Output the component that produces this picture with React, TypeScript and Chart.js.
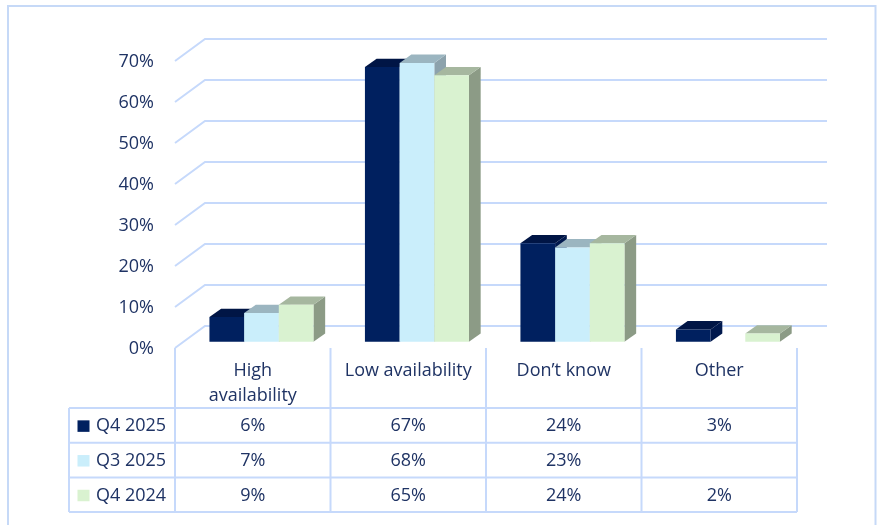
import { useEffect, useRef } from 'react';
import { Chart, registerables } from 'chart.js';

Chart.register(...registerables);

// Survey answers per quarter (percent)
const categories: string[][] = [['High', 'availability'], ['Low availability'], ['Don’t know'], ['Other']];
const seriesNames = ['Q4 2025', 'Q3 2025', 'Q4 2024'];
const q4_2025: (number | null)[] = [6, 67, 24, 3];
const q3_2025: (number | null)[] = [7, 68, 23, null];
const q4_2024: (number | null)[] = [9, 65, 24, 2];
const yTicks = [0, 10, 20, 30, 40, 50, 60, 70];

const FACE_FRONT = ['#00205f', '#caeefb', '#d9f2d0'];
const FACE_TOP = ['#001545', '#9bb5c0', '#a6b79f'];
const FACE_SIDE = ['#00184d', '#8ca2ac', '#8c9b86'];

const GRID = '#c6d9fb';
const TEXT = '#1f3364';
const FONT = '18px "Open Sans", sans-serif';

// offsets of the floor's front edge and back wall relative to the bar plane
const FRONT_OFF = { dx: -8.7, dy: 6.3 };
const BACK_OFF = { dx: 21.3, dy: -15.7 };
// bar depth
const BAR_D = { dx: 11.7, dy: -8.3 };

const TABLE_LEFT = 69;
const HEADER_BOTTOM = 408;
const ROW_H = 34.7;

const depthPlugin = {
  id: 'depth3d',
  beforeDatasetsDraw(chart: any) {
    const { ctx, chartArea, scales } = chart;
    const x = scales.x;
    const y = scales.y;
    ctx.save();

    // walls: back gridlines with the left side diagonals
    ctx.strokeStyle = GRID;
    ctx.lineWidth = 2;
    const fx = chartArea.left + FRONT_OFF.dx;
    const bx = chartArea.left + BACK_OFF.dx;
    const bxr = chartArea.right + BACK_OFF.dx;
    for (const v of yTicks) {
      const yb = y.getPixelForValue(v);
      ctx.beginPath();
      ctx.moveTo(fx, yb + FRONT_OFF.dy);
      ctx.lineTo(bx, yb + BACK_OFF.dy);
      ctx.lineTo(bxr, yb + BACK_OFF.dy);
      ctx.stroke();
    }

    // columns: side, top, then front, left to right so neighbours overlap properly
    const datasets = chart.data.datasets;
    for (let j = 0; j < chart.data.labels.length; j++) {
      for (let i = 0; i < datasets.length; i++) {
        const val = datasets[i].data[j];
        if (val == null) continue;
        const el = chart.getDatasetMeta(i).data[j];
        const p = el.getProps(['x', 'y', 'base', 'width'], true);
        const L = p.x - p.width / 2;
        const R = p.x + p.width / 2;
        const T = p.y;
        const B = p.base;
        ctx.fillStyle = FACE_SIDE[i];
        ctx.beginPath();
        ctx.moveTo(R, T);
        ctx.lineTo(R + BAR_D.dx, T + BAR_D.dy);
        ctx.lineTo(R + BAR_D.dx, B + BAR_D.dy);
        ctx.lineTo(R, B);
        ctx.closePath();
        ctx.fill();
        ctx.fillStyle = FACE_TOP[i];
        ctx.beginPath();
        ctx.moveTo(L, T);
        ctx.lineTo(R, T);
        ctx.lineTo(R + BAR_D.dx, T + BAR_D.dy);
        ctx.lineTo(L + BAR_D.dx, T + BAR_D.dy);
        ctx.closePath();
        ctx.fill();
        el.draw(ctx, chartArea);
      }
    }
    ctx.restore();
    return false;
  },
  afterDraw(chart: any) {
    const { ctx, chartArea, scales } = chart;
    const x = scales.x;
    const y = scales.y;
    ctx.save();

    // outer frame
    ctx.strokeStyle = '#c6d9f7';
    ctx.lineWidth = 2;
    ctx.strokeRect(8, 6, 867.5, 540);

    // y tick labels at the floor's front edge
    ctx.fillStyle = TEXT;
    ctx.font = FONT;
    ctx.textAlign = 'right';
    ctx.textBaseline = 'middle';
    const fx = chartArea.left + FRONT_OFF.dx;
    for (const v of yTicks) {
      ctx.fillText(v + '%', fx - 21, y.getPixelForValue(v) + FRONT_OFF.dy + 1);
    }

    // data table
    const n = chart.data.labels.length;
    const colW = (chartArea.right - chartArea.left) / n;
    const colX = (k: number) => chartArea.left + k * colW + FRONT_OFF.dx;
    const top = y.getPixelForValue(0) + FRONT_OFF.dy;
    const rows = chart.data.datasets.length;
    const bottom = HEADER_BOTTOM + rows * ROW_H;

    ctx.strokeStyle = GRID;
    ctx.lineWidth = 2;
    ctx.beginPath();
    for (let k = 0; k <= n; k++) {
      ctx.moveTo(colX(k), top);
      ctx.lineTo(colX(k), bottom);
    }
    ctx.moveTo(TABLE_LEFT, HEADER_BOTTOM);
    ctx.lineTo(TABLE_LEFT, bottom);
    for (let r = 0; r <= rows; r++) {
      const yy = HEADER_BOTTOM + r * ROW_H;
      ctx.moveTo(TABLE_LEFT, yy);
      ctx.lineTo(colX(n), yy);
    }
    ctx.stroke();

    ctx.fillStyle = TEXT;
    ctx.textAlign = 'center';
    ctx.textBaseline = 'middle';
    chart.data.labels.forEach((lab: string[], k: number) => {
      const cx = (colX(k) + colX(k + 1)) / 2;
      lab.forEach((line, li) => ctx.fillText(line, cx, 371 + li * 25));
    });

    chart.data.datasets.forEach((ds: any, r: number) => {
      const cy = HEADER_BOTTOM + (r + 0.5) * ROW_H + 1;
      ctx.fillStyle = FACE_FRONT[r];
      ctx.fillRect(TABLE_LEFT + 8.5, cy - 6, 12, 11.5);
      ctx.fillStyle = TEXT;
      ctx.textAlign = 'left';
      ctx.fillText(ds.label, TABLE_LEFT + 27, cy);
      ctx.textAlign = 'center';
      ds.data.forEach((v: number | null, k: number) => {
        if (v == null) return;
        ctx.fillText(v + '%', (colX(k) + colX(k + 1)) / 2, cy);
      });
    });
    ctx.restore();
  },
};

export default function App() {
  const ref = useRef<HTMLCanvasElement | null>(null);

  useEffect(() => {
    if (!ref.current) return;
    const series = [q4_2025, q3_2025, q4_2024];
    const chart = new Chart(ref.current, {
      type: 'bar',
      data: {
        labels: categories as any,
        datasets: series.map((d, i) => ({
          label: seriesNames[i],
          data: d,
          backgroundColor: FACE_FRONT[i],
          borderWidth: 0,
          barPercentage: 1,
          categoryPercentage: 0.669,
        })),
      },
      options: {
        responsive: false,
        animation: false,
        devicePixelRatio: 1,
        layout: { padding: { left: 183.7, right: 71.3, top: 54.7, bottom: 183.3 } },
        scales: {
          x: { display: false },
          y: { display: false, min: 0, max: 70 },
        },
        plugins: {
          legend: { display: false },
          tooltip: { enabled: false },
        },
      },
      plugins: [depthPlugin],
    });
    return () => chart.destroy();
  }, []);

  return (
    <div style={{ position: 'fixed', left: 0, top: 0, width: 877, height: 525, background: '#fff' }}>
      <canvas ref={ref} width={877} height={525} style={{ display: 'block' }} />
    </div>
  );
}
